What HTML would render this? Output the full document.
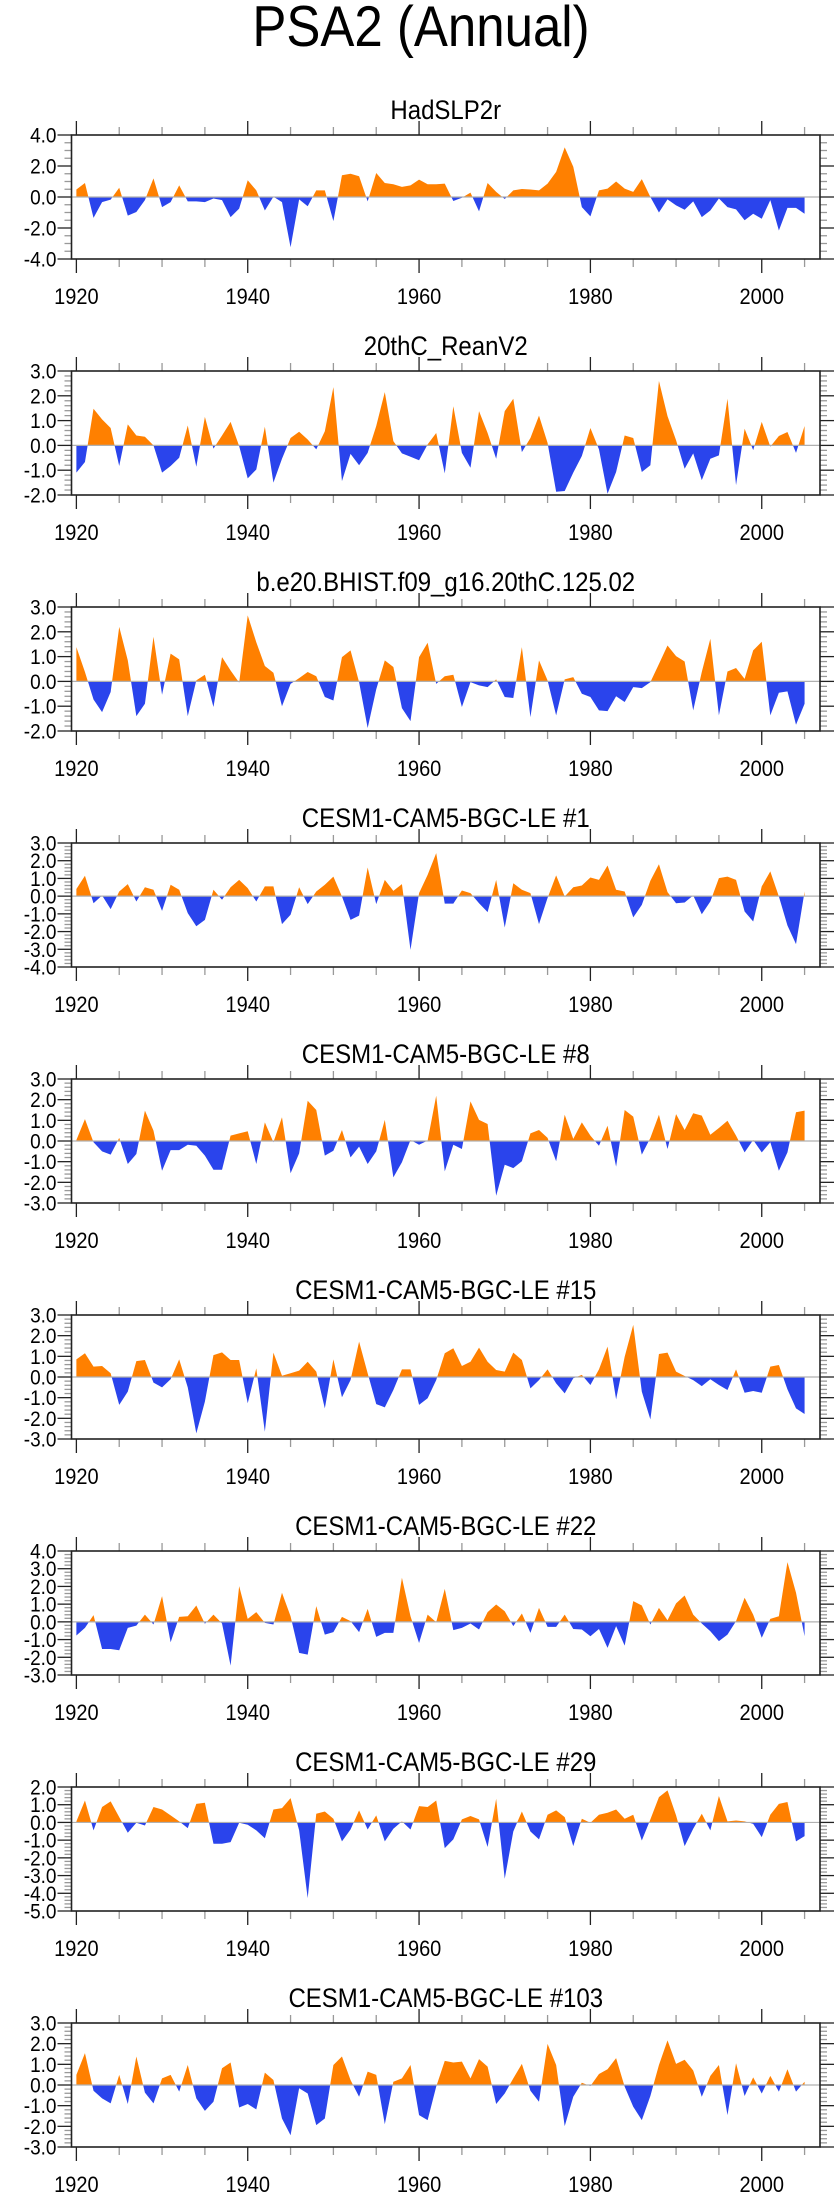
<!DOCTYPE html>
<html><head><meta charset="utf-8"><style>
body{margin:0;background:#fff}
svg{display:block}
text{font-family:"Liberation Sans",sans-serif;fill:#000}
</style></head><body>
<svg id="chart" width="840" height="2200" viewBox="0 0 840 2200" xmlns="http://www.w3.org/2000/svg">
<text x="0" y="0" text-anchor="middle" font-size="51" transform="translate(421,46) scale(1,1.12)">PSA2 (Annual)</text>
</svg>
<script>
const years = []; for (let y = 1920; y <= 2005; y++) years.push(y);
const panelTitles = ["HadSLP2r","20thC_ReanV2","b.e20.BHIST.f09_g16.20thC.125.02","CESM1-CAM5-BGC-LE #1","CESM1-CAM5-BGC-LE #8","CESM1-CAM5-BGC-LE #15","CESM1-CAM5-BGC-LE #22","CESM1-CAM5-BGC-LE #29","CESM1-CAM5-BGC-LE #103"];
const yMins = [-4,-2,-2,-4,-3,-3,-3,-5,-3];
const yMaxs = [4,3,3,3,3,3,4,2,3];
const yMajorSteps = [2,1,1,1,1,1,1,1,1];
const yMinorSteps = [0.5,0.2,0.2,0.2,0.2,0.2,0.2,0.2,0.2];
const xTickLabels = [1920,1940,1960,1980,2000];
const s1 = [0.48,0.9,-1.35,-0.33,-0.17,0.6,-1.2,-0.97,-0.2,1.2,-0.65,-0.33,0.75,-0.28,-0.28,-0.33,-0.1,-0.2,-1.3,-0.75,1.08,0.43,-0.87,0.02,-0.33,-3.24,-0.15,-0.6,0.43,0.43,-1.56,1.4,1.5,1.34,-0.28,1.55,0.9,0.82,0.65,0.75,1.12,0.82,0.82,0.86,-0.26,-0.05,0.28,-0.93,0.9,0.33,-0.13,0.43,0.52,0.48,0.43,0.86,1.62,3.2,1.95,-0.65,-1.25,0.43,0.54,1.0,0.54,0.33,1.15,0,-1.0,-0.15,-0.54,-0.82,-0.28,-1.3,-0.87,-0.1,-0.65,-0.8,-1.5,-1.08,-1.4,-0.2,-2.16,-0.7,-0.7,-1.08];
const s2 = [-1.1,-0.67,1.48,1.05,0.7,-0.83,0.85,0.4,0.35,0,-1.1,-0.83,-0.5,0.8,-0.86,1.15,-0.13,0.4,0.95,-0.03,-1.33,-0.97,0.75,-1.5,-0.54,0.3,0.55,0.24,-0.16,0.57,2.35,-1.44,-0.34,-0.8,-0.3,0.78,2.15,0.17,-0.32,-0.46,-0.6,0.04,0.5,-1.13,1.58,-0.3,-0.9,1.38,0.5,-0.54,1.38,1.88,-0.27,0.3,1.2,0.1,-1.87,-1.84,-1.1,-0.43,0.7,-0.16,-1.95,-1.07,0.4,0.3,-1.07,-0.8,2.6,1.18,0.21,-0.94,-0.32,-1.4,-0.54,-0.4,1.88,-1.6,0.67,-0.19,0.95,-0.05,0.38,0.54,-0.3,0.78];
const s3 = [1.38,0.38,-0.73,-1.24,-0.43,2.2,0.85,-1.4,-0.9,1.8,-0.54,1.12,0.89,-1.4,0.04,0.27,-1.03,0.98,0.44,-0.05,2.66,1.58,0.62,0.35,-1.0,-0.1,0.13,0.38,0.21,-0.63,-0.77,0.98,1.25,-0.03,-1.88,-0.32,0.85,0.58,-1.08,-1.6,0.98,1.56,-0.1,0.21,0.27,-1.03,-0.03,-0.16,-0.23,0.08,-0.63,-0.67,1.38,-1.44,0.85,0.04,-1.37,0.08,0.17,-0.5,-0.63,-1.17,-1.2,-0.6,-0.83,-0.23,-0.27,-0.03,0.7,1.45,1.02,0.8,-1.17,0.38,1.72,-1.37,0.4,0.54,0.1,1.25,1.6,-1.37,-0.46,-0.4,-1.75,-0.9];
const s4 = [0.4,1.15,-0.4,0.04,-0.73,0.26,0.68,-0.3,0.5,0.36,-0.83,0.64,0.36,-0.96,-1.7,-1.34,0.36,-0.2,0.5,0.92,0.45,-0.3,0.55,0.55,-1.58,-1.05,0.5,-0.45,0.26,0.64,1.1,-0.02,-1.34,-1.1,1.62,-0.45,0.92,0.3,0.68,-3.03,0.17,1.2,2.43,-0.42,-0.42,0.32,0.17,-0.4,-0.9,0.92,-1.77,0.73,0.36,0.17,-1.58,-0.1,1.17,-0.02,0.5,0.6,1.05,0.92,1.73,0.36,0.26,-1.2,-0.49,0.87,1.8,0.23,-0.4,-0.36,0.04,-1.02,-0.3,1.02,1.1,0.92,-0.87,-1.43,0.55,1.4,-0.02,-1.66,-2.71,0.26];
const s5 = [0.05,1.06,-0.06,-0.5,-0.66,0.15,-1.11,-0.63,1.47,0.5,-1.44,-0.44,-0.44,-0.18,-0.23,-0.71,-1.39,-1.39,0.26,0.37,0.47,-1.11,0.9,-0.06,1.15,-1.56,-0.6,1.95,1.5,-0.71,-0.47,0.53,-0.79,-0.27,-1.11,-0.5,1.02,-1.76,-1.03,0.05,-0.18,0.02,2.19,-1.47,-0.18,-0.39,1.92,1.02,0.82,-2.65,-1.15,-1.31,-0.98,0.37,0.53,0.15,-0.98,1.27,0.1,0.9,0.26,-0.23,0.74,-1.24,1.5,1.18,-0.66,0.15,1.27,-0.39,1.3,0.53,1.34,1.23,0.3,0.63,0.98,0.26,-0.55,0.05,-0.55,-0.06,-1.44,-0.55,1.39,1.47];
const s6 = [0.85,1.15,0.5,0.53,0.18,-1.35,-0.71,0.77,0.82,-0.27,-0.5,-0.11,0.85,-0.5,-2.73,-1.19,1.06,1.19,0.82,0.82,-1.27,0.42,-2.65,1.18,0.06,0.18,0.31,0.74,0.26,-1.52,0.85,-0.98,-0.15,1.71,0.18,-1.31,-1.47,-0.63,0.37,0.37,-1.35,-1.03,-0.15,1.15,1.39,0.53,0.74,1.42,0.74,0.34,0.26,1.18,0.82,-0.55,-0.15,0.37,-0.31,-0.79,-0.06,0.1,-0.39,0.37,1.47,-1.08,0.98,2.52,-0.71,-2.05,1.11,1.18,0.26,0.05,-0.15,-0.44,-0.11,-0.39,-0.63,0.37,-0.76,-0.68,-0.76,0.5,0.58,-0.6,-1.52,-1.79];
const s7 = [-0.77,-0.34,0.38,-1.53,-1.53,-1.6,-0.34,-0.21,0.41,-0.15,1.45,-1.15,0.28,0.32,0.92,-0.11,0.41,-0.09,-2.47,2.02,0.17,0.55,-0.06,-0.15,1.64,0.32,-1.75,-1.85,0.89,-0.72,-0.58,0.28,0.04,-0.58,0.73,-0.85,-0.62,-0.62,2.49,0.32,-1.19,0.41,-0.02,1.86,-0.47,-0.34,-0.09,-0.43,0.55,0.98,0.6,-0.24,0.47,-0.62,0.79,-0.28,-0.28,0.41,-0.4,-0.43,-0.81,-0.4,-1.47,-0.24,-1.34,1.17,0.92,-0.15,0.79,0.09,1.04,1.49,0.41,-0.09,-0.53,-1.09,-0.72,0.04,1.36,0.41,-0.9,0.17,0.32,3.37,1.64,-0.81];
const s8 = [0.06,1.24,-0.45,0.87,1.19,0.3,-0.58,-0.02,-0.17,0.87,0.73,0.4,0.06,-0.32,1.05,1.11,-1.2,-1.2,-1.11,-0.02,-0.13,-0.45,-0.89,0.73,0.81,1.37,-0.45,-4.27,0.49,0.62,0.21,-1.07,-0.4,0.68,-0.4,0.4,-1.07,-0.36,0.06,-0.4,0.92,0.87,1.24,-1.45,-0.96,0.17,0.36,0.17,-1.39,1.34,-3.18,-0.51,0.62,-0.51,-0.96,0.43,0.68,0.3,-1.34,0.21,-0.02,0.43,0.55,0.73,0.21,0.43,-1.02,0.17,1.43,1.81,0.4,-1.34,-0.36,0.49,-0.45,1.49,0.06,0.11,0.06,-0.08,-0.83,0.43,1.05,1.15,-1.07,-0.77];
const s9 = [0.49,1.54,-0.28,-0.65,-0.89,0.49,-0.92,1.38,-0.37,-0.89,0.32,0.49,-0.32,0.97,-0.65,-1.25,-0.81,0.81,1.09,-1.09,-0.92,-1.18,0.6,0.24,-1.62,-2.43,-0.16,-0.41,-1.94,-1.62,0.97,1.38,0.24,-0.57,0.65,0.49,-1.9,0.16,0.32,0.97,-1.46,-1.7,-0.08,1.17,1.09,1.13,0.32,1.25,0.89,-0.92,-0.41,0.32,1.02,-0.28,-0.81,1.99,0.97,-1.99,-0.57,0.11,-0.05,0.53,0.76,1.3,-0.08,-1.05,-1.7,-0.53,0.97,2.16,1.02,1.22,0.7,-0.57,0.44,0.97,-1.46,1.05,-0.53,0.37,-0.41,0.44,-0.32,0.76,-0.32,0.16];
const series = [s1,s2,s3,s4,s5,s6,s7,s8,s9];

const NS = "http://www.w3.org/2000/svg";
const svg = document.getElementById("chart");
const PL = 71.5, PR = 820, XMIN = 1919.43, XMAX = 2006.8, PH = 124;
function xs(yr){ return PL + (yr - XMIN) / (XMAX - XMIN) * (PR - PL); }
function mk(tag, attrs, parent){ const e = document.createElementNS(NS, tag); for (const k in attrs) e.setAttribute(k, attrs[k]); (parent||svg).appendChild(e); return e; }
function fmt(v){ return (Math.abs(v) < 1e-9 ? 0 : v).toFixed(1); }

series.forEach((vals, i) => {
  const top = 135 + 236 * i, bot = top + PH;
  const ymin = yMins[i], ymax = yMaxs[i];
  const ys = v => bot - (v - ymin) / (ymax - ymin) * PH;
  const g = mk("g", {});
  
  
  const t = mk("text", {x: 0, y: 0, "text-anchor": "middle", "font-size": 24, transform: "translate(" + ((PL + PR) / 2) + "," + (top - 16) + ") scale(1,1.12)"}, g);
  t.textContent = panelTitles[i];
  
  
  const z = ys(0);
  let d = "M" + xs(years[0]) + "," + z;
  vals.forEach((v, k) => { d += " L" + xs(years[k]).toFixed(2) + "," + ys(v).toFixed(2); });
  d += " L" + xs(years[years.length - 1]) + "," + z + " Z";
  const cpU = mk("clipPath", {id: "cu" + i}, g); mk("rect", {x: PL, y: top, width: PR - PL, height: z - top}, cpU);
  const cpL = mk("clipPath", {id: "cl" + i}, g); mk("rect", {x: PL, y: z, width: PR - PL, height: bot - z}, cpL);
  const pa = mk("path", {d: d, fill: "#ff8000", "clip-path": "url(#cu" + i + ")"}, g);
  
  
  const pb = mk("path", {d: d, fill: "#2a44ec", "clip-path": "url(#cl" + i + ")"}, g);
  
  
  const zl = mk("line", {x1: PL, x2: PR, y1: z, y2: z, stroke: "#b0b0b0", "stroke-width": 1.2}, g);
  
  
  const nMinor = Math.round((ymax - ymin) / yMinorSteps[i]);
  for (let k = 0; k <= nMinor; k++) {
    const v = ymin + k * yMinorSteps[i];
    const isMaj = Math.abs(v / yMajorSteps[i] - Math.round(v / yMajorSteps[i])) < 1e-6;
    const L = isMaj ? 14 : 7, yy = ys(v);
    const c = isMaj ? "#222" : "#999";
    mk("line", {x1: PL - L, x2: PL, y1: yy, y2: yy, stroke: c, "stroke-width": 1.3}, g);
    mk("line", {x1: PR, x2: PR + L, y1: yy, y2: yy, stroke: c, "stroke-width": 1.3}, g);
    if (isMaj) {
      const lb = mk("text", {x: 0, y: 0, "text-anchor": "end", "font-size": 19, transform: "translate(" + (PL - 15) + "," + (yy + 7.5) + ") scale(1,1.1)"}, g);
      lb.textContent = fmt(v);
      
      
    }
  }
  for (let yr = 1920; yr <= 2005; yr += 5) {
    const isMaj = yr % 20 === 0, L = isMaj ? 14 : 8, xx = xs(yr);
    const c = isMaj ? "#222" : "#999";
    mk("line", {x1: xx, x2: xx, y1: top - L, y2: top, stroke: c, "stroke-width": 1.3}, g);
    mk("line", {x1: xx, x2: xx, y1: bot, y2: bot + L, stroke: c, "stroke-width": 1.3}, g);
  }
  xTickLabels.forEach(yr => {
    const lb = mk("text", {x: 0, y: 0, "text-anchor": "middle", "font-size": 20, transform: "translate(" + xs(yr) + "," + (bot + 45) + ") scale(1,1.1)"}, g);
    lb.textContent = yr;
    
    
  });
  const fr = mk("rect", {x: PL, y: top, width: PR - PL, height: PH, fill: "none", stroke: "#222", "stroke-width": 1.6}, g);
  
  
});
</script>
</body></html>
